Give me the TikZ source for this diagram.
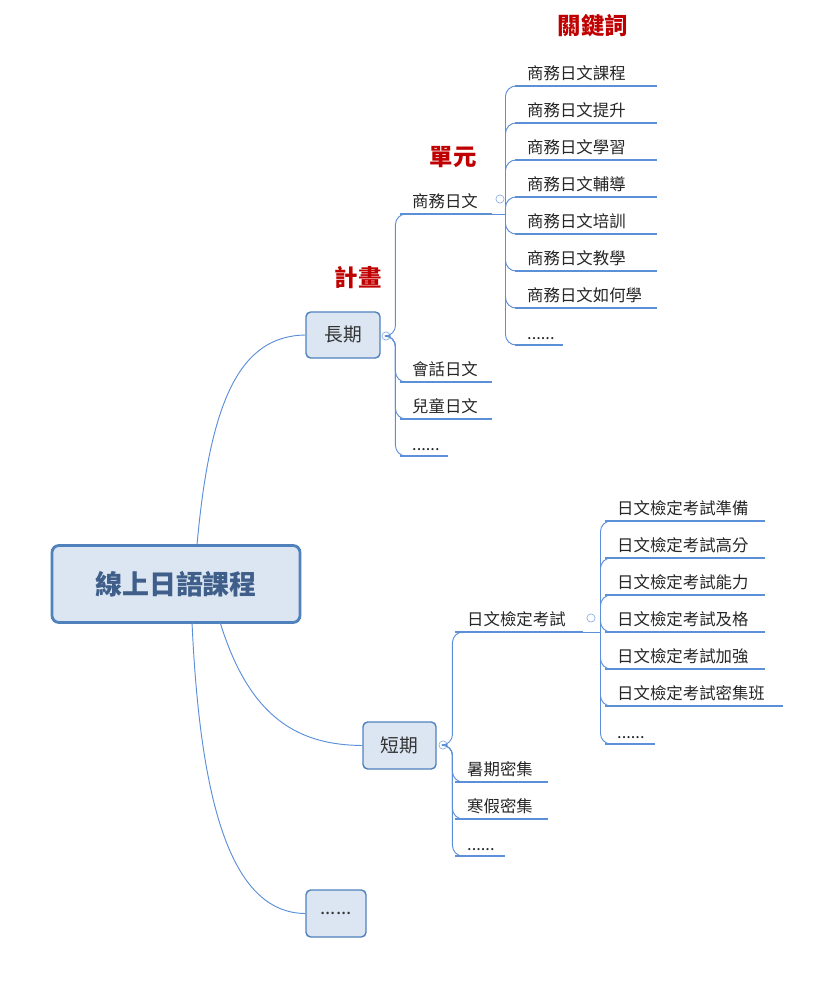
\documentclass[tikz,border=0pt]{standalone}
\usepackage{fontspec}
\setmainfont{Noto Sans CJK TC}
\definecolor{linkblue}{HTML}{5B8FD8}
\definecolor{boxfill}{HTML}{DCE6F2}
\definecolor{boxline}{HTML}{4F81BD}
\definecolor{roottext}{HTML}{3F5F8A}
\definecolor{tagred}{HTML}{C00000}
\tikzset{
  topic/.style={draw=boxline, fill=boxfill, rounded corners=4, line width=1.2pt, font=\fontsize{16}{18}\selectfont, text=black!80, inner sep=0pt},
  leaf/.style={anchor=south west, inner xsep=0pt, inner ysep=4pt, align=left, font=\fontsize{14}{16}\selectfont, text=black!85},
  uline/.style={linkblue, line width=1.6pt},
  branch/.style={linkblue, line width=0.8pt, rounded corners=9},
  fold/.style={draw=linkblue!70, line width=0.6pt, fill=white, circle, inner sep=0pt, minimum size=7pt},
  tag/.style={text=tagred, font=\fontsize{20}{22}\selectfont\bfseries}
}
\newcommand\leaftext[2]{\hspace*{0.36cm}#2}
\begin{document}
\begin{tikzpicture}[x=0.03cm, y=-0.03cm]
  \useasboundingbox (0,0) rectangle (832,984);

  % main topic and its three branches
  \node[draw=boxline, fill=boxfill, rounded corners=6, line width=2.4pt, minimum width=248*0.03cm, minimum height=77*0.03cm, text=roottext, font=\fontsize{23}{26}\selectfont\bfseries] (root) at (176,584) {線上日語課程};
  \node[topic, minimum width=74*0.03cm, minimum height=46*0.03cm] (long) at (343,335) {長期};
  \node[topic, minimum width=73*0.03cm, minimum height=47*0.03cm] (short) at (399.5,745.5) {短期};
  \node[topic, minimum width=60*0.03cm, minimum height=47*0.03cm] (more) at (336,913.5) {......};

  \coordinate (r1) at (197,545);
  \coordinate (r2) at (220,622);
  \coordinate (r3) at (192,622);
  \draw[linkblue, line width=0.8pt] (r1) .. controls (210,400) and (240,336) .. (long.west);
  \draw[linkblue, line width=0.8pt] (r2) .. controls (250,720) and (300,745) .. (short.west);
  \draw[linkblue, line width=0.8pt] (r3) .. controls (200,800) and (230,913) .. (more.west);

  % labels
  \node[tag] (plan) at (358,278) {計畫};
  \node[tag] (unit) at (453,157) {單元};
  \node[tag] (keys) at (593,26) {關鍵詞};

  % long term
  \node[fold] (f1) at (386,336) {};
  \node[leaf, text width=92*0.03cm] (a1) at (400,214) {\leaftext{}{商務日文}};
  \node[leaf, text width=92*0.03cm] (a2) at (400,382) {\leaftext{}{會話日文}};
  \node[leaf, text width=92*0.03cm] (a3) at (400,419) {\leaftext{}{兒童日文}};
  \node[leaf, text width=48*0.03cm] (a4) at (400,456) {\leaftext{}{......}};
  \foreach \n in {a1,a2,a3,a4}{
    \draw[uline] (\n.south west) -- (\n.south east);
    \draw[branch] (f1.east) -- ++(5,0) |- (\n.south west);
  }

  % keywords
  \node[fold] (f2) at (500,199) {};
  \draw[uline, line width=0.8pt] (a1.south east) -- ++(13,0) coordinate (a1e);
  \foreach \t/\y [count=\i] in {課程/86,提升/123,學習/160,輔導/197,培訓/234,教學/271,如何學/308}{
    \node[leaf, text width=142*0.03cm] (k\i) at (515,\y) {\leaftext{}{商務日文\t}};
    \draw[uline] (k\i.south west) -- (k\i.south east);
    \draw[branch] (a1e) |- (k\i.south west);
  }
  \node[leaf, text width=48*0.03cm] (k8) at (515,345) {\leaftext{}{......}};
  \draw[uline] (k8.south west) -- (k8.south east);
  \draw[branch] (a1e) |- (k8.south west);

  % short term
  \node[fold] (f3) at (443,745) {};
  \node[leaf, text width=128*0.03cm] (b1) at (455,632) {\leaftext{}{日文檢定考試}};
  \node[leaf, text width=93*0.03cm] (b2) at (455,782) {\leaftext{}{暑期密集}};
  \node[leaf, text width=93*0.03cm] (b3) at (455,819) {\leaftext{}{寒假密集}};
  \node[leaf, text width=50*0.03cm] (b4) at (455,856) {\leaftext{}{......}};
  \foreach \n in {b1,b2,b3,b4}{
    \draw[uline] (\n.south west) -- (\n.south east);
    \draw[branch] (f3.east) -- ++(5,0) |- (\n.south west);
  }

  % exam keywords
  \node[fold] (f4) at (591,618) {};
  \draw[uline, line width=0.8pt] (b1.south east) -- ++(17,0) coordinate (b1e);
  \foreach \t/\y/\w [count=\i] in {準備/521/160,高分/558/160,能力/595/160,及格/632/160,加強/669/160,密集班/706/178}{
    \node[leaf, text width=\w*0.03cm] (e\i) at (605,\y) {\leaftext{}{日文檢定考試\t}};
    \draw[uline] (e\i.south west) -- (e\i.south east);
    \draw[branch] (b1e) |- (e\i.south west);
  }
  \node[leaf, text width=50*0.03cm] (e7) at (605,744) {\leaftext{}{......}};
  \draw[uline] (e7.south west) -- (e7.south east);
  \draw[branch] (b1e) |- (e7.south west);
\end{tikzpicture}
\end{document}
